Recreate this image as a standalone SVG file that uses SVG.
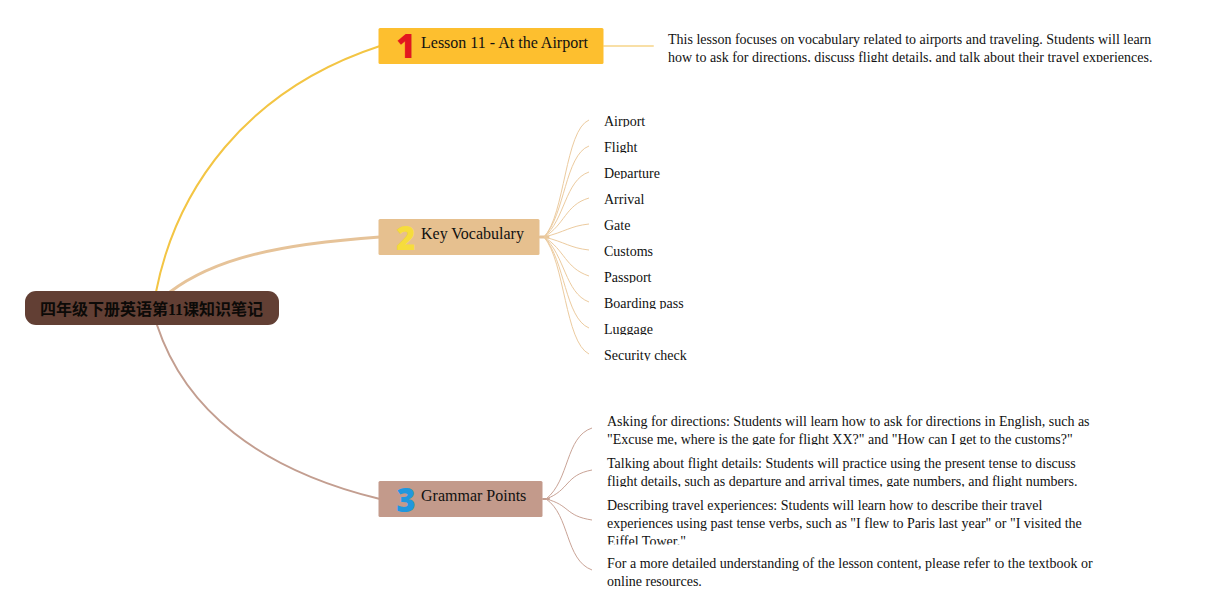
<svg xmlns="http://www.w3.org/2000/svg" width="1228" height="616" viewBox="0 0 1228 616">
<style>
text{font-family:"Liberation Serif","Noto Sans CJK SC",serif;font-size:14px;fill:#111}
.t{font-size:16px}
.root{font-size:16px;font-weight:bold;fill:#0c0a08}
.num{font-family:"Open Sans","Liberation Sans",sans-serif;font-size:33px;font-weight:800;text-anchor:middle}
.b{fill:none;stroke-linecap:round}
.v{stroke:#eccb9f;stroke-width:1;fill:none}
.g{stroke:#c9a396;stroke-width:1;fill:none}
</style>
<defs>
<clipPath id="c0"><rect x="660" y="28" width="500" height="34"/></clipPath>
<clipPath id="c1"><rect x="600" y="412" width="500" height="33"/></clipPath>
<clipPath id="c2"><rect x="600" y="454" width="500" height="33"/></clipPath>
<clipPath id="c3"><rect x="600" y="496" width="500" height="48.5"/></clipPath>
<clipPath id="c4"><rect x="600" y="554" width="500" height="36"/></clipPath>
<clipPath id="v1"><rect x="600" y="110" width="100" height="17"/></clipPath>
<clipPath id="v2"><rect x="600" y="136" width="100" height="17"/></clipPath>
<clipPath id="v3"><rect x="600" y="162" width="100" height="17"/></clipPath>
<clipPath id="v4"><rect x="600" y="188" width="100" height="17"/></clipPath>
<clipPath id="v5"><rect x="600" y="214" width="100" height="17"/></clipPath>
<clipPath id="v6"><rect x="600" y="240" width="100" height="17"/></clipPath>
<clipPath id="v7"><rect x="600" y="266" width="100" height="17"/></clipPath>
<clipPath id="v8"><rect x="600" y="292" width="100" height="17"/></clipPath>
<clipPath id="v9"><rect x="600" y="318" width="100" height="17"/></clipPath>
<clipPath id="v10"><rect x="600" y="344" width="100" height="17"/></clipPath>
</defs>
<g id="connectors">
<path class="b" stroke="#f3c544" stroke-width="2" d="M156 292C176 190 245 90 380 46"/>
<path class="b" stroke="#e6c399" stroke-width="3" d="M170 292C215 258 280 244 380 237"/>
<path class="b" stroke="#c39e90" stroke-width="2" d="M157 325C185 410 260 470 380 499"/>
<path class="b" stroke="#f8dfa6" stroke-width="2" d="M604 46H653"/>
<path class="b" stroke="#e6c399" stroke-width="3" d="M540 237H548"/>
<path class="v" d="M544 237C565 215 565 130 589 120"/>
<path class="v" d="M544 237C565 215 565 155 589 146"/>
<path class="v" d="M544 237C565 220 565 180 589 172"/>
<path class="v" d="M544 237C565 225 565 205 589 198"/>
<path class="v" d="M544 237C565 232 570 226 589 224"/>
<path class="v" d="M544 237C565 242 570 248 589 250"/>
<path class="v" d="M544 237C565 250 565 268 589 276"/>
<path class="v" d="M544 237C565 255 565 293 589 302"/>
<path class="v" d="M544 237C565 260 565 318 589 328"/>
<path class="v" d="M544 237C565 262 565 342 589 354"/>
<path class="b" stroke="#c39e90" stroke-width="2" d="M543 499H549"/>
<path class="g" d="M546 499C570 480 565 437 592 428"/>
<path class="g" d="M546 499C570 490 565 475 592 470"/>
<path class="g" d="M546 499C570 505 565 516 592 520"/>
<path class="g" d="M546 499C570 515 565 560 592 570"/>
</g>
<g id="root"><rect x="25" y="291" width="254" height="34" rx="11" fill="#623f34"/><text class="root" x="151.500" y="315" text-anchor="middle">四年级下册英语第11课知识笔记</text></g>
<g id="n1"><rect x="378.500" y="28" width="225" height="36" rx="1.500" fill="#fdbf2f"/><text class="num" x="406" y="58" style="fill:#e2171f">1</text><text class="t" x="421" y="48">Lesson 11 - At the Airport</text></g>
<g id="n2"><rect x="378.500" y="219" width="161" height="36" rx="1.500" fill="#e6c08f"/><text class="num" x="406" y="250" style="fill:#f6dc3c">2</text><text class="t" x="421" y="239">Key Vocabulary</text></g>
<g id="n3"><rect x="378.500" y="481" width="164" height="36" rx="1.500" fill="#c39a8b"/><text class="num" x="406" y="512" style="fill:#2097dd">3</text><text class="t" x="421" y="501">Grammar Points</text></g>
<g id="d1" clip-path="url(#c0)"><text x="668" y="44">This lesson focuses on vocabulary related to airports and traveling. Students will learn</text><text x="668" y="62">how to ask for directions, discuss flight details, and talk about their travel experiences.</text></g>
<g id="v-airport" clip-path="url(#v1)"><text x="604" y="126">Airport</text></g>
<g id="v-flight" clip-path="url(#v2)"><text x="604" y="152">Flight</text></g>
<g id="v-departure" clip-path="url(#v3)"><text x="604" y="178">Departure</text></g>
<g id="v-arrival" clip-path="url(#v4)"><text x="604" y="204">Arrival</text></g>
<g id="v-gate" clip-path="url(#v5)"><text x="604" y="230">Gate</text></g>
<g id="v-customs" clip-path="url(#v6)"><text x="604" y="256">Customs</text></g>
<g id="v-passport" clip-path="url(#v7)"><text x="604" y="282">Passport</text></g>
<g id="v-boarding" clip-path="url(#v8)"><text x="604" y="308">Boarding pass</text></g>
<g id="v-luggage" clip-path="url(#v9)"><text x="604" y="334">Luggage</text></g>
<g id="v-security" clip-path="url(#v10)"><text x="604" y="360">Security check</text></g>
<g id="g1" clip-path="url(#c1)"><text x="607" y="426">Asking for directions: Students will learn how to ask for directions in English, such as</text><text x="607" y="444">"Excuse me, where is the gate for flight XX?" and "How can I get to the customs?"</text></g>
<g id="g2" clip-path="url(#c2)"><text x="607" y="468">Talking about flight details: Students will practice using the present tense to discuss</text><text x="607" y="486">flight details, such as departure and arrival times, gate numbers, and flight numbers.</text></g>
<g id="g3" clip-path="url(#c3)"><text x="607" y="510">Describing travel experiences: Students will learn how to describe their travel</text><text x="607" y="528">experiences using past tense verbs, such as "I flew to Paris last year" or "I visited the</text><text x="607" y="546">Eiffel Tower."</text></g>
<g id="g4" clip-path="url(#c4)"><text x="607" y="568">For a more detailed understanding of the lesson content, please refer to the textbook or</text><text x="607" y="586">online resources.</text></g>
</svg>
